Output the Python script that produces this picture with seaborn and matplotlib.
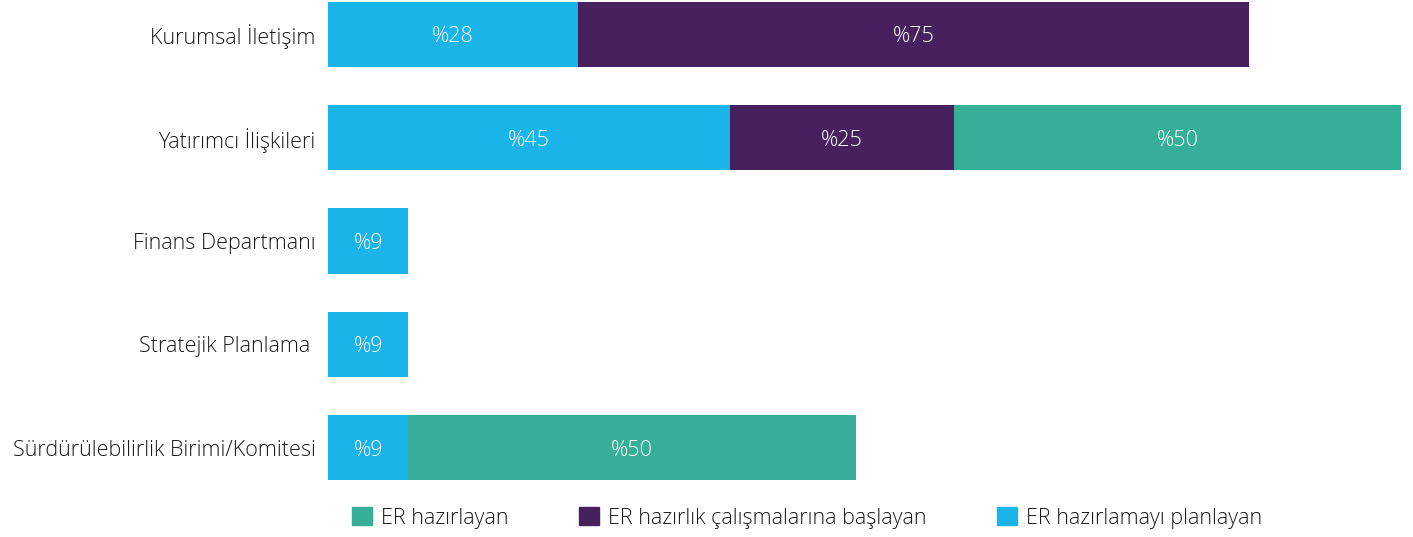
import numpy as np
import pandas as pd
import matplotlib.pyplot as plt
import matplotlib.patches as mpatches
import seaborn as sns

categories = ["Kurumsal İletişim", "Yatırımcı İlişkileri", "Finans Departmanı",
              "Stratejik Planlama ", "Sürdürülebilirlik Birimi/Komitesi"]
planlayan = [28, 45, 9, 9, 9]      # ER hazırlamayı planlayan
baslayan = [75, 25, 0, 0, 0]       # ER hazırlık çalışmalarına başlayan
hazirlayan = [0, 50, 0, 0, 50]     # ER hazırlayan

series_names = ["ER hazırlamayı planlayan", "ER hazırlık çalışmalarına başlayan", "ER hazırlayan"]
colors = ["#1ab4e8", "#47215e", "#36ae98"]
TEXT = "#1a1a1a"


def main():
    sns.set_theme(style="white")
    plt.rcParams['font.family'] = ['Open Sans', 'DejaVu Sans']

    vals = np.array([planlayan, baslayan, hazirlayan], dtype=float)
    cum = vals.cumsum(axis=0)
    df = pd.DataFrame({"cat": categories})

    fig = plt.figure(figsize=(14.13, 5.37), dpi=100)
    ax = fig.add_axes([0.2321, 0.0987, 0.9915 - 0.2321, 0.9013])

    # stacked bars: draw cumulative totals, widest first
    for i in [2, 1, 0]:
        df["v"] = cum[i]
        sns.barplot(data=df, x="v", y="cat", color=colors[i], orient="h",
                    width=0.63, ax=ax, saturation=1, linewidth=0)

    # segment labels
    for i in range(3):
        for j in range(len(categories)):
            if vals[i, j] > 0:
                x = cum[i, j] - vals[i, j] / 2
                ax.text(x, j, f"%{int(vals[i, j])}", ha="center", va="center_baseline",
                        color="white", fontsize=15.5, fontweight="light")

    ax.set_xlim(0, 120)
    ax.set_ylim(4.35, -0.33)
    ax.set_xlabel("")
    ax.set_ylabel("")
    ax.set_xticks([])
    ax.tick_params(axis="y", length=0, pad=9, labelsize=15.5, labelcolor=TEXT)
    for lbl in ax.get_yticklabels():
        lbl.set_fontweight("light")
        lbl.set_va("center_baseline")
    for s in ax.spines.values():
        s.set_visible(False)

    handles = [mpatches.Patch(color=colors[i], label=series_names[i]) for i in [2, 1, 0]]
    leg = fig.legend(handles=handles, loc="center left", bbox_to_anchor=(333 / 1413, 1 - 518 / 537),
                     ncol=3, frameon=False, fontsize=15.5, handlelength=0.92, handleheight=0.92,
                     handletextpad=0.4, columnspacing=3.3, labelcolor=TEXT)
    for t in leg.get_texts():
        t.set_fontweight("light")

    fig.savefig("out.png", dpi=100)
    plt.close(fig)


if __name__ == "__main__":
    main()
